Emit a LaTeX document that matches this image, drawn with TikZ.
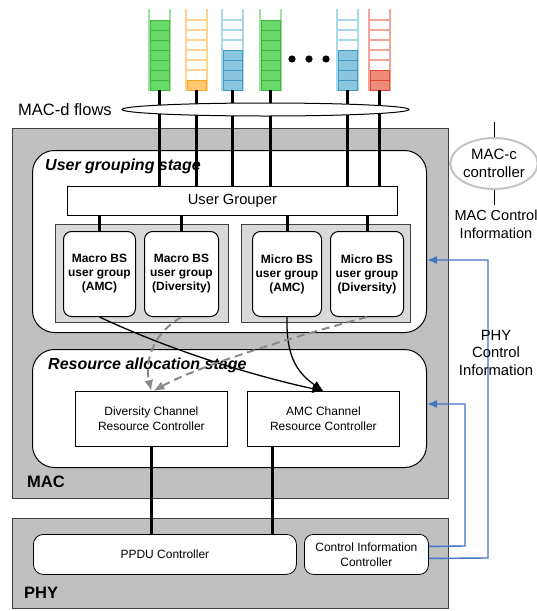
\documentclass[tikz,border=0pt]{standalone}
\usepackage{fontspec}
\setmainfont{Liberation Sans}
\usetikzlibrary{shapes.geometric,arrows.meta}
\definecolor{macgray}{HTML}{C0C0C0}
\definecolor{grpgray}{HTML}{D9D9D9}
\definecolor{edgegray}{HTML}{404040}
\definecolor{blueln}{HTML}{4472C4}
\definecolor{ctrlgray}{HTML}{C4C4C4}
\definecolor{dashgray}{HTML}{8A8A8A}
\definecolor{glight}{HTML}{9FE29F}
\definecolor{gfill}{HTML}{6AD86A}
\definecolor{gdark}{HTML}{3CB83C}
\definecolor{olight}{HTML}{FFD390}
\definecolor{ofill}{HTML}{FFC870}
\definecolor{odark}{HTML}{F5A623}
\definecolor{blight}{HTML}{A9D8EC}
\definecolor{bfill}{HTML}{8AC7DE}
\definecolor{bdark}{HTML}{3E9CC4}
\definecolor{rlight}{HTML}{F3A496}
\definecolor{rfill}{HTML}{EE8B7B}
\definecolor{rdark}{HTML}{E0472F}
\newcommand{\drawqueue}[6]{%
  \node[inner sep=0pt, minimum width=21pt, minimum height=82pt] (#1) at (#2+10.5,49) {};
  \foreach \k in {1,...,7}{%
    \ifnum\k>#3\relax
      \draw[#4, line width=1.6pt] (#2,{90-10*\k}) -- (#2+21,{90-10*\k});
    \fi}
  \draw[#4, line width=2pt] (#2,9) -- (#2,90) -- (#2+21,90) -- (#2+21,9);
  \ifnum#3>0\relax
  \foreach \k in {1,...,#3}{%
    \draw[fill=#5, draw=#6, line width=1pt] (#2+1,{90-10*(\k-1)}) rectangle (#2+20,{90-10*\k});
  }\fi
}
\tikzset{
  macbox/.style={draw=edgegray, fill=macgray, line width=1.2pt, anchor=north west, inner sep=0pt},
  stagebox/.style={draw=black, fill=white, rounded corners=22pt, line width=1pt, anchor=north west, inner sep=0pt},
  grpbox/.style={draw=edgegray, fill=grpgray, line width=1pt, anchor=north west, inner sep=0pt},
  ubox/.style={draw=black, fill=white, rounded corners=8pt, line width=1pt, anchor=north west, inner sep=0pt, align=center, font=\fontsize{12}{14}\selectfont\bfseries},
  plainbox/.style={draw=black, fill=white, line width=0.8pt, anchor=north west, inner sep=0pt, align=center, font=\fontsize{12}{15}\selectfont},
  flow/.style={line width=3pt, black},
  solidarrow/.style={line width=1.3pt, black, -{Latex[length=11pt,width=9pt]}},
  dasharrow/.style={line width=2pt, dashgray, dash pattern=on 8pt off 5pt, -{Latex[length=11pt,width=9pt]}},
  bluearrow/.style={line width=1.4pt, blueln, -{Latex[length=10pt,width=8pt]}},
  ctrlline/.style={line width=2.5pt, ctrlgray},
  titletext/.style={font=\fontsize{16}{19}\selectfont\bfseries\itshape, anchor=west, inner sep=0pt},
  labeltext/.style={font=\fontsize{16.5}{19}\selectfont\bfseries, anchor=west, inner sep=0pt},
  sidetext/.style={font=\fontsize{14.5}{18}\selectfont, align=center, inner sep=0pt}
}
\begin{document}
\begin{tikzpicture}[x=1pt,y=-1pt]
\useasboundingbox (0,0) rectangle (537,611);
\fill[white] (0,0) rectangle (537,611);

% boxes
\node[macbox, minimum width=436pt, minimum height=370pt] (mac) at (12,128) {};
\node[macbox, minimum width=436pt, minimum height=90pt] (phy) at (12,518) {};
\node[stagebox, minimum width=394pt, minimum height=182pt] (ugs) at (32,150) {};
\node[stagebox, minimum width=394pt, minimum height=118pt] (ras) at (32,349) {};
\node[titletext] (ugst) at (45,166) {User grouping stage};
\node[titletext] (rast) at (48,365) {Resource allocation stage};
\node[labeltext] (maclbl) at (27,482) {MAC};
\node[labeltext] (phylbl) at (24,593) {PHY};

\node[plainbox, minimum width=330pt, minimum height=29pt, font=\fontsize{14.7}{17}\selectfont] (ug) at (67,186) {User Grouper};

\node[grpbox, minimum width=173pt, minimum height=98pt] (macrogrp) at (55,224) {};
\node[grpbox, minimum width=169pt, minimum height=98pt] (microgrp) at (241,224) {};
\node[ubox, minimum width=72pt, minimum height=85pt] (maamc) at (63,231) {Macro BS\\user group\\(AMC)};
\node[ubox, minimum width=74pt, minimum height=85pt] (madiv) at (144,231) {Macro BS\\user group\\(Diversity)};
\node[ubox, minimum width=69pt, minimum height=85pt] (miamc) at (252,231) {Micro BS\\user group\\(AMC)};
\node[ubox, minimum width=73pt, minimum height=85pt] (midiv) at (330,231) {Micro BS\\user group\\(Diversity)};

\node[plainbox, minimum width=152pt, minimum height=55pt] (divc) at (75,391) {Diversity Channel\\Resource Controller};
\node[plainbox, minimum width=152pt, minimum height=55pt] (amcc) at (247,391) {AMC Channel\\Resource Controller};

\node[plainbox, rounded corners=10pt, minimum width=263pt, minimum height=40pt] (ppdu) at (33,534) {PPDU Controller};
\node[plainbox, rounded corners=9pt, minimum width=124pt, minimum height=40pt] (cic) at (304,534) {Control Information\\Controller};

% connectors grouper -> groups
\foreach \n in {maamc,madiv,miamc,midiv}{
  \draw[flow] (\n.north) -- (\n.north |- ug.south);
}
% resource controllers -> PPDU
\draw[flow] (divc.south) -- (divc.south |- ppdu.north);
\draw[flow] ([xshift=25pt]amcc.south west) -- ([xshift=25pt]amcc.south west |- ppdu.north);

% queues
\drawqueue{q1}{149}{7}{glight}{gfill}{gdark}
\drawqueue{q2}{186}{1}{olight}{ofill}{odark}
\drawqueue{q3}{222}{4}{blight}{bfill}{bdark}
\drawqueue{q4}{260}{7}{glight}{gfill}{gdark}
\drawqueue{q5}{337}{4}{blight}{bfill}{bdark}
\drawqueue{q6}{369}{2}{rlight}{rfill}{rdark}
\fill (292,59) circle (3.6pt) (309,59) circle (3.6pt) (326,59) circle (3.6pt);

\foreach \n in {q1,q2,q3,q4,q5,q6}{
  \draw[flow] (\n.south) -- (\n.south |- ug.north);
}
\node[ellipse, draw=black, fill=white, line width=1pt, minimum width=287pt, minimum height=13pt, inner sep=0pt] (macd) at (265.5,109.5) {};
\node[font=\fontsize{16.5}{19}\selectfont, anchor=west, inner sep=0pt] (macdlbl) at (18,109.5) {MAC-d flows};

% MAC-c controller
\node[ellipse, draw=ctrlgray, fill=white, line width=2pt, minimum width=68pt, minimum height=51pt, inner sep=0pt, align=center, font=\fontsize{15}{18}\selectfont] (macc) at (494,163.5) {MAC-c\\controller};
\coordinate (macctop) at (494,122);
\coordinate (maccbot) at (494,205);
\coordinate (maccright) at (537,163.5);
\draw[ctrlline] (mac.east |- macc.west) -- (macc.west);
\draw[ctrlline] (macc.east) -- (maccright);
\draw[line width=0.8pt] (macctop) -- (macc.north);
\draw[line width=0.8pt] (macc.south) -- (maccbot);
\node[sidetext] (macci) at (496,224) {MAC Control\\Information};

% PHY control information
\draw[bluearrow] ([yshift=-4pt]cic.east) -- (488,558) -- (488,260) -- (ugs.east |- 488,260);
\draw[bluearrow] ([yshift=8pt]cic.east) -- (465,546) -- (465,404) -- (ras.east |- 465,404);
\node[sidetext, font=\fontsize{14.8}{17.5}\selectfont] (phyci) at (496,352.5) {PHY\\Control\\Information};

% allocation arrows
\draw[solidarrow] (maamc.south) .. controls (170,350) and (250,375) .. (amcc.north);
\draw[solidarrow] (miamc.south) .. controls (286,355) and (296,372) .. (amcc.north);
\draw[dasharrow] (madiv.south) .. controls (150,335) and (145,365) .. (divc.north);
\draw[dasharrow] (midiv.south) .. controls (300,335) and (200,365) .. ([xshift=2pt]divc.north);
\end{tikzpicture}
\end{document}
